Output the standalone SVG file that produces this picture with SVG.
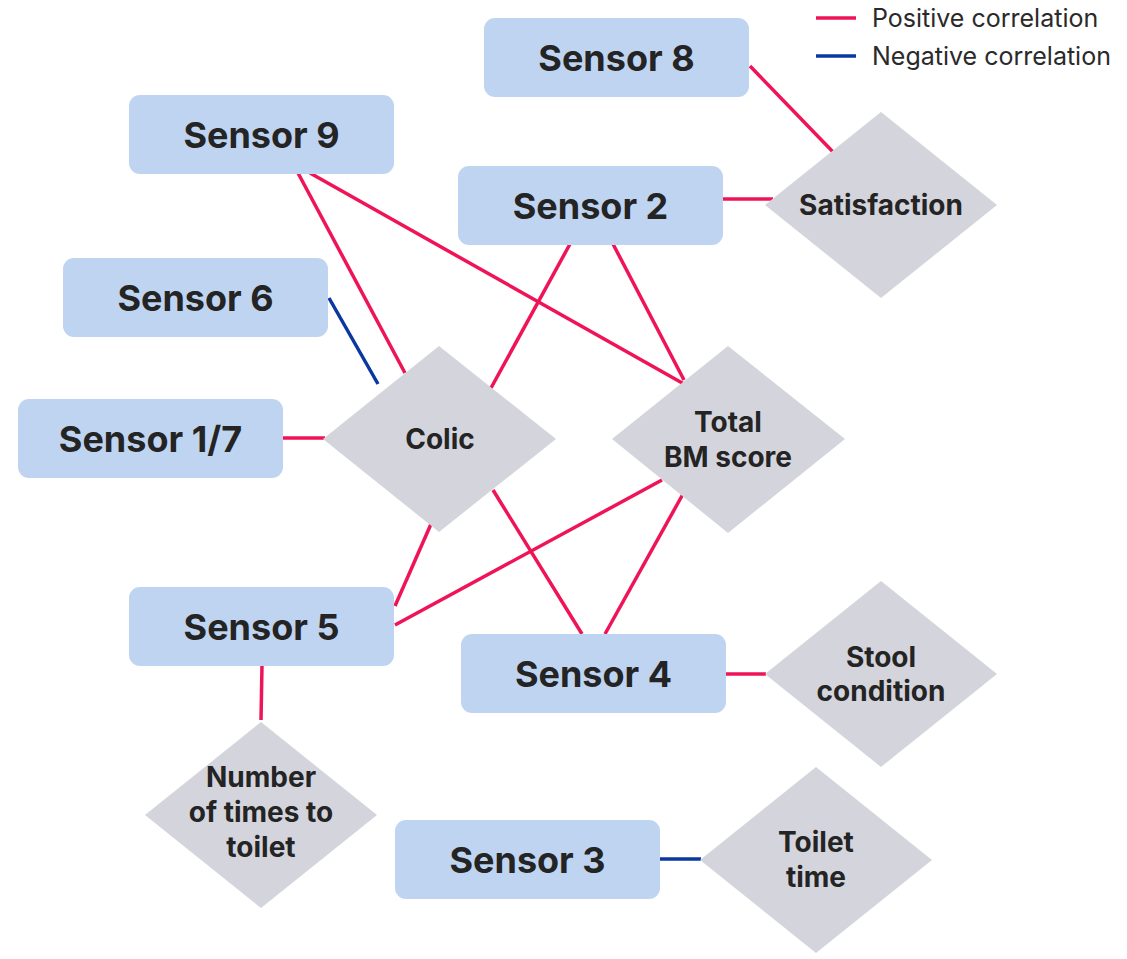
<svg xmlns="http://www.w3.org/2000/svg" width="1127" height="959" viewBox="0 0 1127 959">
<style>
.box{fill:#bfd4f1;}
.dia{fill:#d4d5dc;}
.bt{font-family:Inter,"Liberation Sans",sans-serif;font-weight:700;font-size:36px;fill:#242424;text-anchor:middle;}
.dt{font-family:Inter,"Liberation Sans",sans-serif;font-weight:700;font-size:28px;fill:#242424;text-anchor:middle;}
.lg{font-family:Inter,"Liberation Sans",sans-serif;font-size:25px;fill:#2a2a2a;}
.pos{stroke:#ef1458;stroke-width:3.5;fill:none;}
.neg{stroke:#0a38a0;stroke-width:3.5;fill:none;}
</style>
<g id="connectors">
<line class="pos" x1="750" y1="66" x2="834" y2="153"/>
<line class="pos" x1="723" y1="199" x2="773" y2="199"/>
<line class="pos" x1="298" y1="173" x2="405" y2="373"/>
<line class="pos" x1="310" y1="173" x2="684" y2="384"/>
<line class="neg" x1="329" y1="298" x2="378" y2="384"/>
<line class="pos" x1="283" y1="438" x2="325" y2="438"/>
<line class="pos" x1="570" y1="244" x2="491" y2="388"/>
<line class="pos" x1="613" y1="244" x2="684" y2="380"/>
<line class="pos" x1="493" y1="490" x2="582" y2="634"/>
<line class="pos" x1="431" y1="524" x2="395" y2="606"/>
<line class="pos" x1="662" y1="480" x2="395" y2="625"/>
<line class="pos" x1="683" y1="494" x2="605" y2="634"/>
<line class="pos" x1="726" y1="674" x2="766" y2="674"/>
<line class="pos" x1="262" y1="665" x2="261" y2="720"/>
<line class="neg" x1="660" y1="859" x2="701" y2="859"/>
</g>
<g id="legend">
<line class="pos" x1="816" y1="18" x2="856" y2="18"/>
<text class="lg" x="872" y="27">Positive correlation</text>
<line class="neg" x1="816" y1="56" x2="856" y2="56"/>
<text class="lg" x="872" y="65">Negative correlation</text>
</g>
<g id="sensor8"><rect class="box" x="484" y="18" width="265" height="79" rx="11"/><text class="bt" x="616.5" y="71">Sensor 8</text></g>
<g id="sensor9"><rect class="box" x="129" y="95" width="265" height="79" rx="11"/><text class="bt" x="261.5" y="148">Sensor 9</text></g>
<g id="sensor2"><rect class="box" x="458" y="166" width="265" height="79" rx="11"/><text class="bt" x="590.5" y="219">Sensor 2</text></g>
<g id="sensor6"><rect class="box" x="63" y="258" width="265" height="79" rx="11"/><text class="bt" x="195.5" y="311">Sensor 6</text></g>
<g id="sensor17"><rect class="box" x="18" y="399" width="265" height="79" rx="11"/><text class="bt" x="150.5" y="452">Sensor 1/7</text></g>
<g id="sensor5"><rect class="box" x="129" y="587" width="265" height="79" rx="11"/><text class="bt" x="261.5" y="640">Sensor 5</text></g>
<g id="sensor4"><rect class="box" x="461" y="634" width="265" height="79" rx="11"/><text class="bt" x="593.5" y="687">Sensor 4</text></g>
<g id="sensor3"><rect class="box" x="395" y="820" width="265" height="79" rx="11"/><text class="bt" x="527.5" y="873">Sensor 3</text></g>
<g id="satisfaction"><polygon class="dia" points="881,112 997,205 881,298 765,205"/><text class="dt" x="881" y="215">Satisfaction</text></g>
<g id="colic"><polygon class="dia" points="439,346 556,439 439,532 323,439"/><text class="dt" x="440" y="449">Colic</text></g>
<g id="totalbm"><polygon class="dia" points="728,346 845,439 728,533 612,439"/><text class="dt" x="728" y="432">Total</text><text class="dt" x="728" y="467">BM score</text></g>
<g id="stool"><polygon class="dia" points="881,581 997,674 881,767 765,674"/><text class="dt" x="881" y="667">Stool</text><text class="dt" x="881" y="701">condition</text></g>
<g id="numtimes"><polygon class="dia" points="261,722 377,815 261,908 145,815"/><text class="dt" x="261" y="787">Number</text><text class="dt" x="261" y="822">of times to</text><text class="dt" x="261" y="857">toilet</text></g>
<g id="toilettime"><polygon class="dia" points="816,767 932,860 816,953 700,860"/><text class="dt" x="816" y="852">Toilet</text><text class="dt" x="816" y="887">time</text></g>
</svg>
